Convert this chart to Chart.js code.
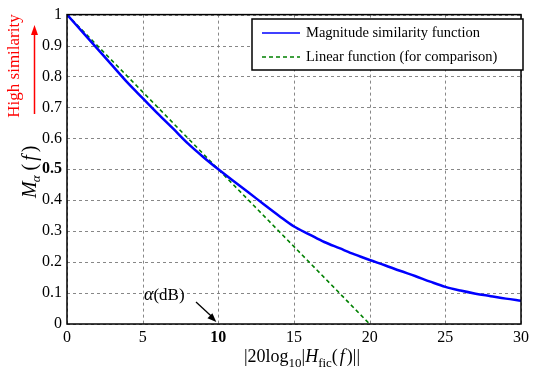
<!DOCTYPE html>
<html>
<head>
<meta charset="utf-8">
<script src="https://cdn.jsdelivr.net/npm/chart.js@4/dist/chart.umd.min.js"></script>
<style>
  html, body { margin: 0; padding: 0; background: #fff; }
  #wrap { width: 533px; height: 374px; position: relative; }
</style>
</head>
<body>
<div id="wrap"><canvas id="chart"></canvas></div>
<script>
// x values (dB) and read-off magnitude similarity values
const xValues = [0, 1, 2, 3, 4, 5, 6, 7, 8, 9, 10, 11, 12, 13, 14, 15,
                 16, 17, 18, 19, 20, 21, 22, 23, 24, 25, 26, 27, 28, 29, 30];
const similarityValues = [1.00, 0.945, 0.89, 0.835, 0.78, 0.73, 0.68, 0.632, 0.583, 0.54, 0.50,
                          0.462, 0.425, 0.387, 0.35, 0.315, 0.29, 0.265, 0.245, 0.225, 0.207,
                          0.19, 0.172, 0.155, 0.137, 0.12, 0.108, 0.098, 0.09, 0.082, 0.075];
const linearX = [0, 20];
const linearValues = [1, 0];
const seriesLabels = ['Magnitude similarity function', 'Linear function (for comparison)'];

const SERIF = '"Liberation Serif", "DejaVu Serif", serif';

// dashed MATLAB-style grid under the lines
const dashedGrid = {
    id: 'dashedGrid',
    beforeDatasetsDraw(chart) {
        const ctx = chart.ctx;
        const a = chart.chartArea;
        ctx.save();
        ctx.strokeStyle = '#7a7a7a';
        ctx.lineWidth = 0.9;
        ctx.setLineDash([3, 3]);
        chart.scales.x.ticks.forEach(t => {
            const px = Math.round(chart.scales.x.getPixelForValue(t.value)) + 0.5;
            ctx.beginPath(); ctx.moveTo(px, a.top); ctx.lineTo(px, a.bottom); ctx.stroke();
        });
        chart.scales.y.ticks.forEach(t => {
            const py = Math.round(chart.scales.y.getPixelForValue(t.value)) + 0.5;
            ctx.beginPath(); ctx.moveTo(a.left, py); ctx.lineTo(a.right, py); ctx.stroke();
        });
        ctx.restore();
    }
};

// frame, legend box and annotations drawn on top of the chart
const decorations = {
    id: 'decorations',
    afterDraw(chart) {
        const ctx = chart.ctx;
        const a = chart.chartArea;
        ctx.save();

        // plot frame
        ctx.strokeStyle = '#000';
        ctx.lineWidth = 1.5;
        ctx.strokeRect(a.left, a.top, a.right - a.left, a.bottom - a.top);

        // legend box
        const lx = 252, ly = 19, lw = 271, lh = 51;
        ctx.fillStyle = '#fff';
        ctx.fillRect(lx, ly, lw, lh);
        ctx.lineWidth = 1.5;
        ctx.strokeRect(lx, ly, lw, lh);
        ctx.strokeStyle = '#0000ff';
        ctx.beginPath(); ctx.moveTo(262, 33); ctx.lineTo(300, 33); ctx.stroke();
        ctx.strokeStyle = '#008000';
        ctx.setLineDash([4, 3]);
        ctx.beginPath(); ctx.moveTo(262, 57); ctx.lineTo(300, 57); ctx.stroke();
        ctx.setLineDash([]);
        ctx.fillStyle = '#000';
        ctx.font = '14.5px ' + SERIF;
        ctx.textBaseline = 'middle';
        ctx.fillText(seriesLabels[0], 306, 33);
        ctx.fillText(seriesLabels[1], 306, 57);

        // y title: M_alpha(f)
        ctx.save();
        ctx.translate(29, 164);
        ctx.rotate(-Math.PI / 2);
        ctx.textBaseline = 'alphabetic';
        ctx.textAlign = 'left';
        ctx.font = 'italic 20px ' + SERIF;
        let x0 = -34;
        ctx.fillText('M', x0, 7); x0 += ctx.measureText('M').width - 1;
        ctx.font = 'italic 13px ' + SERIF;
        ctx.fillText('α', x0, 11); x0 += ctx.measureText('α').width + 5;
        ctx.font = '20px ' + SERIF;
        ctx.fillText('(', x0, 7); x0 += ctx.measureText('(').width + 3;
        ctx.font = 'italic 20px ' + SERIF;
        ctx.fillText('f', x0, 7); x0 += ctx.measureText('f').width + 3;
        ctx.font = '20px ' + SERIF;
        ctx.fillText(')', x0, 7);
        ctx.restore();

        // red "High similarity" with arrow
        ctx.save();
        ctx.translate(15, 66);
        ctx.rotate(-Math.PI / 2);
        ctx.fillStyle = '#ff0000';
        ctx.font = '17px ' + SERIF;
        ctx.textAlign = 'center';
        ctx.textBaseline = 'middle';
        ctx.fillText('High similarity', 0, 0);
        ctx.restore();
        ctx.strokeStyle = '#ff0000';
        ctx.fillStyle = '#ff0000';
        ctx.lineWidth = 1.5;
        ctx.beginPath(); ctx.moveTo(34.5, 114); ctx.lineTo(34.5, 32); ctx.stroke();
        ctx.beginPath(); ctx.moveTo(34.5, 25); ctx.lineTo(31, 35); ctx.lineTo(38, 35); ctx.closePath(); ctx.fill();

        // alpha(dB) annotation with arrow pointing at x = 10
        ctx.fillStyle = '#000';
        ctx.textBaseline = 'alphabetic';
        ctx.font = 'italic 18px ' + SERIF;
        ctx.fillText('α', 144, 300);
        let ax = 144 + ctx.measureText('α').width;
        ctx.font = '17px ' + SERIF;
        ctx.fillText('(dB)', ax, 300);
        const tx = chart.scales.x.getPixelForValue(10) - 2, ty = a.bottom - 2;
        ctx.strokeStyle = '#000';
        ctx.lineWidth = 1.3;
        ctx.beginPath(); ctx.moveTo(196, 302); ctx.lineTo(tx - 3, ty - 4); ctx.stroke();
        ctx.save();
        ctx.translate(tx, ty);
        ctx.rotate(Math.atan2(ty - 302, tx - 196));
        ctx.beginPath(); ctx.moveTo(0, 0); ctx.lineTo(-9, -3.5); ctx.lineTo(-9, 3.5); ctx.closePath(); ctx.fill();
        ctx.restore();

        // x title: |20log10|Hfic(f)||
        const parts = [
            ['|20log', '18px', 0],
            ['10', '13px', 5],
            ['|', '18px', 0],
            ['H', 'italic 18px', 0],
            ['fic', '13px', 5],
            ['(', '18px', 0],
            ['f', 'italic 18px', 0],
            [')||', '18px', 0]
        ];
        let total = 0;
        parts.forEach(p => { ctx.font = p[1] + ' ' + SERIF; total += ctx.measureText(p[0]).width; });
        let px = (a.left + a.right) / 2 - total / 2 + 6;
        parts.forEach(p => {
            ctx.font = p[1] + ' ' + SERIF;
            ctx.fillText(p[0], px, 362 + p[2]);
            px += ctx.measureText(p[0]).width + (p[0] === 'f' || p[0] === '(' ? 2 : 0);
        });

        ctx.restore();
    }
};

new Chart(document.getElementById('chart'), {
    type: 'line',
    data: {
        datasets: [
            {
                label: seriesLabels[0],
                data: xValues.map((x, i) => ({ x: x, y: similarityValues[i] })),
                borderColor: '#0000ff',
                borderWidth: 2.5,
                pointRadius: 0,
                cubicInterpolationMode: 'monotone',
                fill: false
            },
            {
                label: seriesLabels[1],
                data: linearX.map((x, i) => ({ x: x, y: linearValues[i] })),
                borderColor: '#008000',
                borderWidth: 1.6,
                borderDash: [4, 3],
                pointRadius: 0,
                fill: false
            }
        ]
    },
    options: {
        responsive: true,
        maintainAspectRatio: false,
        animation: false,
        layout: { padding: { top: 13, right: 6, left: 0, bottom: 0 } },
        scales: {
            x: {
                type: 'linear',
                min: 0,
                max: 30,
                afterFit: s => { s.height = 50; },
                ticks: {
                    stepSize: 5,
                    color: '#000',
                    padding: 4,
                    font: ctx => ({ family: SERIF, size: 16, weight: ctx.tick && ctx.tick.value === 10 ? 'bold' : 'normal' })
                },
                grid: { display: false, drawTicks: false },
                border: { display: false }
            },
            y: {
                min: 0,
                max: 1,
                afterFit: s => { s.width = 67; },
                ticks: {
                    stepSize: 0.1,
                    color: '#000',
                    padding: 5,
                    callback: v => String(Math.round(v * 10) / 10),
                    font: ctx => ({ family: SERIF, size: 16, weight: ctx.tick && Math.abs(ctx.tick.value - 0.5) < 1e-6 ? 'bold' : 'normal' })
                },
                grid: { display: false, drawTicks: false },
                border: { display: false }
            }
        },
        plugins: {
            legend: { display: false },
            tooltip: { enabled: false }
        }
    },
    plugins: [dashedGrid, decorations]
});
</script>
</body>
</html>
